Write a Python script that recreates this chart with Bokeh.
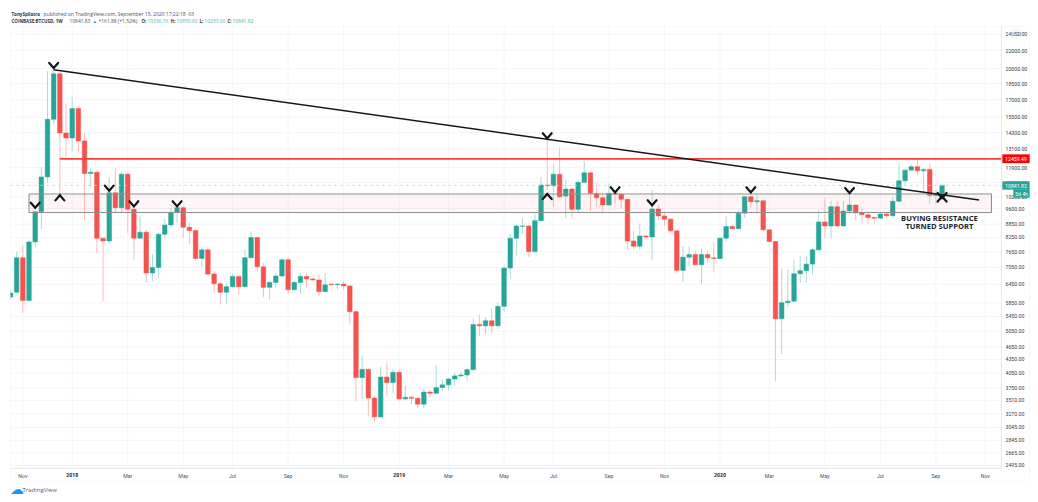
import math
import pandas as pd
from bokeh.plotting import figure
from bokeh.models import (BoxAnnotation, ColumnDataSource, DatetimeAxis, FixedTicker,
                          Label, Range1d)
from bokeh.embed import file_html
from bokeh.resources import INLINE

# ---------- data ----------
first_week = "2017-10-23"
opens = [6035,6186,7418,5924,8060,9445,11332,15335,19472,14275,13905,16220,13690,11540,11620,8218,8100,10430,9645,
         11500,9565,8218,8481,6845,7050,8390,8807,9415,9645,8707,8553,7390,7730,6807,6471,6186,6374,6725,6374,7418,
         8243,7075,6350,6516,6740,7340,6275,6516,6725,6635,6600,6210,6460,6437,6460,6395,5590,3955,4130,3554,3218,
         3967,3852,4065,3536,3567,3548,3440,3667,3642,3754,3808,3926,3990,4010,4124,5226,5190,5330,5190,5748,7027,
         8218,8745,8765,7660,9010,10860,10820,11500,10255,10635,9565,11015,11580,10400,10160,9780,10400,10345,10075,
         8100,7880,8315,8275,9580,9235,9080,8540,6940,7440,7540,7150,7540,7415,7385,8218,8735,8640,9365,10215,9950,
         10000,8585,8075,5385,5860,5905,6820,6930,7175,7730,8950,8765,9695,8765,9480,9780,9380,9295,9155,9125,9330,
         9250,9975,11110,11745,11960,11700,11790,10280,10336.76]
highs = [6275,7660,7935,8115,9480,11930,19740,19891,19600,16585,17233,16400,14275,11870,11745,8250,11332,11870,
         11600,11600,9700,9200,8600,7568,8450,9080,9630,9680,9700,8920,8600,7840,7800,6930,6520,6470,6820,6760,7730,
         8510,8300,7230,6575,6845,7400,7450,6560,6845,6845,6680,6790,6845,6480,6500,6550,6420,5620,4440,4150,3600,
         4188,4275,4130,4130,3785,3590,3570,3735,3700,4220,3920,3955,4060,4060,4175,5394,5510,5420,5680,5870,7075,
         8400,8820,9120,8800,9365,11332,13860,12120,13225,11150,10700,11150,12330,11650,10975,10420,10960,10580,
         10400,10100,8540,8860,8370,10580,9780,9445,9150,8600,7885,7860,7700,7810,7700,8060,8250,9225,8810,9530,
         10250,10490,10360,10050,8600,8100,7000,6990,7340,7490,7460,7810,9530,10130,10000,10000,10000,10420,9800,
         9630,9445,9200,9400,9370,10215,12170,11790,12120,12460,11850,12170,10580,10950]
lows = [5955,6166,5552,5900,7840,8630,10990,14900,10360,12570,12990,12855,9045,10690,7596,5905,7950,9396,9400,8450,
        7340,8200,6505,6550,6680,8280,8700,8900,8243,7980,7300,7090,6750,6166,5800,5830,6340,6110,6340,7400,6880,
        6027,5933,6340,6700,6150,6220,6150,6340,6580,6060,6186,6420,6275,6275,5226,3487,3530,3235,3142,3190,3592,
        3642,3500,3517,3440,3362,3362,3562,3630,3687,3700,3798,3960,3885,4110,4925,4980,4985,5108,5600,6645,7500,
        8405,7440,7600,8980,10580,9690,10180,9120,9150,9400,10950,9480,9700,9365,9750,9840,9630,7730,7730,7755,8145,
        7340,9045,8765,8480,6845,6550,7110,7110,6470,7215,6865,7360,8075,8600,8600,9140,9645,9365,8500,8040,3880,
        4470,5748,5880,6500,6500,6790,7700,8218,8218,8735,8730,9290,9045,8890,8860,8890,9080,9120,9170,9950,10860,
        11720,11440,10420,9840,9840,10253]
closes = [6166,7418,5924,8060,9445,11332,15335,19472,14275,13905,16220,13690,11540,11620,8218,8100,10430,9645,11500,
          9565,8218,8481,6845,7050,8390,8807,9415,9645,8707,8553,7390,7730,6807,6471,6186,6374,6725,6374,7418,8243,
          7075,6350,6516,6740,7340,6275,6516,6725,6635,6600,6210,6437,6437,6460,6395,5590,3955,4130,3554,3218,3967,
          3852,4065,3536,3567,3548,3440,3667,3642,3754,3808,3926,3990,4010,4124,5226,5190,5330,5190,5748,7027,8218,
          8765,8765,7660,9010,10860,10820,11500,10215,10635,9565,11015,11580,10400,10160,9780,10400,10345,10075,8100,
          7880,8315,8275,9580,9235,9080,8540,6940,7440,7540,7150,7540,7415,7385,8218,8735,8640,9365,10215,9950,10000,
          8585,8075,5385,5860,5905,6820,6930,7175,7730,8950,8765,9695,8765,9480,9780,9380,9295,9155,9125,9330,9250,
          9975,11110,11745,11960,11700,11790,10280,10336.76,10841.82]

price_ticks = [24000,22000,20000,18500,17000,15500,14300,13100,11900,11000,10200,9600,8850,8250,7650,7050,6450,
               5850,5450,5050,4650,4350,4050,3750,3510,3270,3045,2845,2665,2495]
month_dates = ["2017-11-06","2018-03-05","2018-05-07","2018-07-02","2018-09-03","2018-11-05","2019-03-04",
               "2019-05-06","2019-07-01","2019-09-02","2019-11-04","2020-03-02","2020-05-04","2020-07-06",
               "2020-09-07","2020-11-02"]
month_labels = ["Nov","Mar","May","Jul","Sep","Nov","Mar","May","Jul","Sep","Nov","Mar","May","Jul","Sep","Nov"]
year_dates = ["2018-01-01","2019-01-07","2020-01-06"]
year_labels = ["2018","2019","2020"]

trend_dates = ["2017-12-11","2020-10-26"]
trend_prices = [19891,10040]
level_date = "2017-12-18"
level_price = 12459.49
zone_dates = ["2017-11-13","2020-11-09"]
zone_prices = [9404,10363]
last_price = 10841.82
note_date = "2020-09-11"
note_lines = ["BUYING RESISTANCE","TURNED SUPPORT"]
note_prices = [9126,8740]

down_marks = [("2017-11-20",9770),("2017-12-11",20335),("2018-02-12",10683),("2018-03-12",9843),("2018-04-30",9843),
              ("2019-06-24",14063),("2019-09-09",10594),("2019-10-21",9896),("2020-02-10",10594),("2020-06-01",10553),
              ("2020-09-14",10281)]
up_marks = [("2017-12-18",10157),("2019-06-24",10228),("2020-09-14",10094)]

UP, DOWN = "#26a69a", "#f5534f"
UP_W, DOWN_W = "#a8dcd6", "#fbbcba"

def ms(d):
    return pd.Timestamp(d).timestamp() * 1000.0

week = 7 * 24 * 3600 * 1000.0
weeks = pd.date_range(first_week, periods=len(opens), freq="7D")
x_ms = [t.timestamp() * 1000.0 for t in weeks]
src = ColumnDataSource(dict(
    x=x_ms, top=[max(o, c) for o, c in zip(opens, closes)], bottom=[min(o, c) for o, c in zip(opens, closes)],
    high=highs, low=lows,
    body=[UP if c >= o else DOWN for o, c in zip(opens, closes)],
    wick=[UP_W if c >= o else DOWN_W for o, c in zip(opens, closes)],
))

# pane bounds (the frame fills the whole canvas so that header, axes and tags can all be drawn in it)
W, H = 1030, 500
PANE_L, PANE_R, PANE_T, PANE_B = 10, 1001, 26, 468
x_pane0, x_pane1 = ms("2017-10-23"), ms("2020-11-20 10:00")
p_top, p_bot = 24952.0, 2455.0
xpp = (x_pane1 - x_pane0) / (PANE_R - PANE_L)
ypp = math.log(p_top / p_bot) / (PANE_B - PANE_T)

p = figure(width=W, height=H, output_backend="svg", toolbar_location=None,
           x_axis_type="datetime", y_axis_type="log", y_axis_location="right",
           x_range=Range1d(x_pane0 - PANE_L * xpp, x_pane1 + (W - PANE_R) * xpp),
           y_range=Range1d(p_bot * math.exp(-(H - PANE_B) * ypp), p_top * math.exp(PANE_T * ypp)),
           min_border=0, background_fill_color="white", border_fill_color="white", outline_line_color=None)
p.grid.visible = False

LABEL_FONT = "Roboto"
TICK_SIZE = "5.2px"


def style_axis(ax, color):
    ax.major_label_text_font = LABEL_FONT
    ax.major_label_text_font_size = TICK_SIZE
    ax.major_label_text_color = color
    ax.major_label_standoff = 4
    ax.major_tick_out = 0
    ax.major_tick_in = 0
    ax.minor_tick_out = 0
    ax.minor_tick_in = 0
    ax.major_tick_line_color = None
    ax.minor_tick_line_color = None


# grid
gx = [ms(d) for d in month_dates + year_dates]
p.segment(gx, [p_bot] * len(gx), gx, [p_top] * len(gx), line_color="#f3f5fa", line_width=1)
p.segment([x_pane0] * len(price_ticks), price_ticks, [x_pane1] * len(price_ticks), price_ticks,
          line_color="#f3f5fa", line_width=1)

# axes
yax = p.yaxis[0]
yax.ticker = FixedTicker(ticks=price_ticks)
yax.major_label_overrides = {v: f"{v:.2f}" for v in price_ticks}
yax.fixed_location = x_pane1
yax.bounds = (p_bot, p_top)
yax.axis_line_color = "#e6e8ee"
style_axis(yax, "#333a45")

xax = p.xaxis[0]
xax.ticker = FixedTicker(ticks=[ms(d) for d in month_dates])
xax.major_label_overrides = {ms(d): t for d, t in zip(month_dates, month_labels)}
xax.fixed_location = p_bot
xax.bounds = (x_pane0, x_pane1)
xax.axis_line_color = "#e6e8ee"
style_axis(xax, "#4a505c")

yr = DatetimeAxis(ticker=FixedTicker(ticks=[ms(d) for d in year_dates]), fixed_location=p_bot,
                  major_label_overrides={ms(d): t for d, t in zip(year_dates, year_labels)},
                  major_label_text_font_style="bold", axis_line_color=None)
style_axis(yr, "#262b33")
p.add_layout(yr, "below")

# candles
p.segment("x", "high", "x", "low", source=src, line_color="wick", line_width=1)
p.vbar(x="x", width=0.74 * week, top="top", bottom="bottom", source=src, fill_color="body", line_color="body", line_width=0.5)

p.line([x_pane0, x_pane1], [last_price, last_price], line_color="#a5e0da", line_dash="dotted", line_width=1)

# drawings
p.quad(left=[ms(zone_dates[0])], right=[ms(zone_dates[1])], bottom=[zone_prices[0]], top=[zone_prices[1]],
       fill_color="#f0504a", fill_alpha=0.05, line_color="#8f8f8f", line_width=1.1)
p.line([ms(level_date), x_pane1], [level_price, level_price], line_color="#f4403c", line_width=1.7)
p.line([ms(d) for d in trend_dates], trend_prices, line_color="#14181d", line_width=1.4)

span_w = 0.72 * week
r = 1.0135
mx, my = [], []
for d, v in down_marks:
    mx.append([ms(d) - span_w, ms(d), ms(d) + span_w]); my.append([v * r, v / r, v * r])
for d, v in up_marks:
    mx.append([ms(d) - span_w, ms(d), ms(d) + span_w]); my.append([v / r, v * r, v / r])
p.multi_line(mx, my, line_color="#101317", line_width=2.2, line_cap="round", line_join="miter")

p.text(x=[ms(note_date)] * 2, y=note_prices, text=note_lines, text_align="center", text_baseline="middle",
       text_font=["Open Sans"] * 2, text_font_size="7.6px", text_font_style="bold", text_color="#20242a")


def lab(x, y, text, size="5px", color="#2e343d", style="normal", align="left", font="Open Sans"):
    p.add_layout(Label(x=x, y=y, x_units="canvas", y_units="canvas", text=text, text_font=font,
                       text_font_size=size, text_color=color, text_font_style=style, text_align=align,
                       text_baseline="middle"))


def tag(left, right, top, bottom, color, alpha=1.0, line=None):
    p.add_layout(BoxAnnotation(left=left, right=right, top=top, bottom=bottom,
                               left_units="canvas", right_units="canvas", top_units="canvas", bottom_units="canvas",
                               fill_color=color, fill_alpha=alpha, line_color=line or color))


# mask of the clipped first candle, and outer border
tag(0, PANE_L - 0.5, 26, 468, "#ffffff")
tag(PANE_L, 1029, 26, 481, "#ffffff", alpha=0, line="#eef0f5")

# price tags
tag(1002, 1029, 154, 162.5, "#ff0000")
lab(1015.5, 158.3, "12459.49", color="#ffffff", align="center", size=TICK_SIZE, font=LABEL_FONT)
tag(1002, 1029, 181, 189, "#26a69a")
lab(1015.5, 185, "10841.82", color="#ffffff", align="center", size=TICK_SIZE, font=LABEL_FONT)
tag(1013, 1029, 189, 197, "#26a69a")
lab(1021, 193, "5d 4h", color="#ffffff", align="center", size=TICK_SIZE, font=LABEL_FONT)
tag(1010.5, 1021, 29, 37.5, "#f6f7f9")
lab(1015.7, 33, "USD", color="#40454f", align="center", size=TICK_SIZE, font=LABEL_FONT)

# header
HB = "4.5px"
HV = "4.9px"
lab(11, 13, "TonySpilotro", style="bold", size=HB)
lab(43, 13, "published on TradingView.com, September 15, 2020 17:22:18 -03", color="#4a505c")
lab(11, 20, "COINBASE:BTCUSD, 1W", style="bold", size=HB)
lab(69, 20, "10841.83", color="#4a505c", size=HV)
lab(92, 20, "▲", color="#26a69a", size="4.5px")
lab(98, 20, "+161.88 (+1.52%)", color="#4a505c", size=HV)
for bx, name, vx, val in [(141, "O:", 147, "10336.76"), (170, "H:", 176, "10950.00"),
                          (199, "L:", 204, "10253.00"), (227, "C:", 232, "10841.82")]:
    lab(bx, 20, name, style="bold", size=HB)
    lab(vx, 20, val, color="#3fb5aa", size=HV)

# logo
lab(9.5, 488, "☁", color="#2196f3", size="14px", font="DejaVu Sans")
lab(22, 489, "TradingView", color="#5a606b", size="6px")

open("out.html", "w").write(file_html(p, INLINE))
